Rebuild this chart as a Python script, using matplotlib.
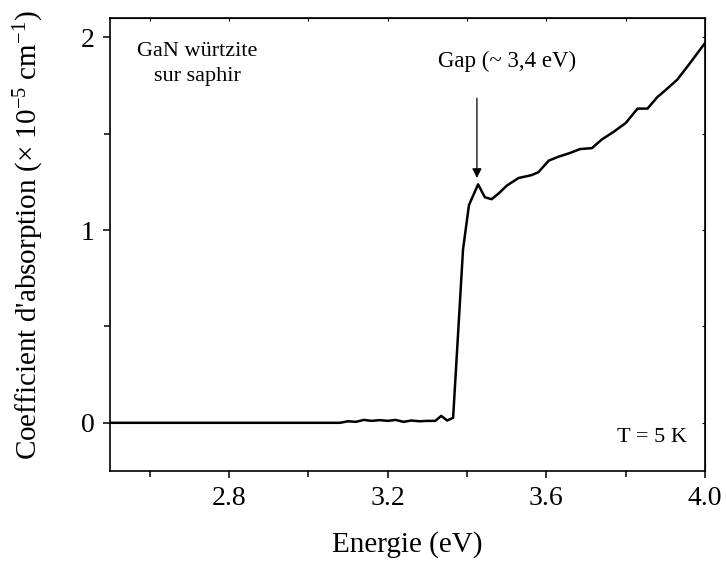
import matplotlib
matplotlib.use("Agg")
import matplotlib.pyplot as plt
from matplotlib.ticker import MultipleLocator

plt.rcParams['font.family'] = ['Liberation Serif', 'DejaVu Serif']
plt.rcParams['mathtext.fontset'] = 'custom'
plt.rcParams['mathtext.rm'] = 'Liberation Serif'
plt.rcParams['mathtext.it'] = 'Liberation Serif:italic'

# absorption spectrum
energie = [2.5, 3.08, 3.10, 3.12, 3.14, 3.16, 3.18, 3.20, 3.22, 3.24, 3.26, 3.28,
           3.30, 3.32, 3.335, 3.35, 3.365, 3.39, 3.405, 3.428, 3.445, 3.462, 3.48,
           3.50, 3.53, 3.563, 3.58, 3.606, 3.63, 3.66, 3.685, 3.715, 3.74, 3.77,
           3.80, 3.83, 3.855, 3.88, 3.90, 3.93, 3.96, 4.0]
absorption = [0, 0, 0.008, 0.005, 0.015, 0.01, 0.014, 0.01, 0.015, 0.005, 0.012, 0.008,
              0.01, 0.01, 0.036, 0.012, 0.026, 0.90, 1.13, 1.237, 1.17, 1.16, 1.19,
              1.23, 1.27, 1.285, 1.30, 1.36, 1.38, 1.40, 1.42, 1.425, 1.47, 1.51,
              1.555, 1.63, 1.63, 1.69, 1.725, 1.78, 1.86, 1.97]

fig = plt.figure(figsize=(7.27, 5.66), dpi=100)
ax = fig.add_axes([110/727, 1-471/566, 595/727, 453/566])

ax.plot(energie, absorption, color='black', lw=1.8)

ax.set_xlim(2.5, 4.0)
ax.set_ylim(-0.25, 2.1)
ax.xaxis.set_minor_locator(MultipleLocator(0.2))
ax.set_xticks([2.8, 3.2, 3.6, 4.0])
ax.yaxis.set_major_locator(MultipleLocator(1))
ax.yaxis.set_minor_locator(MultipleLocator(0.5))

for s in ax.spines.values():
    s.set_linewidth(1.2)

ax.tick_params(axis='both', which='major', direction='out', length=5, width=1.1,
               labelsize=20, pad=6)
ax.tick_params(axis='both', which='minor', direction='out', length=4, width=1.1)
ax.tick_params(axis='both', which='both', top=False, right=False)

sec_x = ax.secondary_xaxis('top')
sec_x.xaxis.set_major_locator(MultipleLocator(0.2))
sec_x.tick_params(direction='in', length=2, width=0.8, labeltop=False)
sec_y = ax.secondary_yaxis('right')
sec_y.yaxis.set_major_locator(MultipleLocator(0.5))
sec_y.tick_params(direction='in', length=2, width=0.8, labelright=False)

ax.set_xlabel('Energie (eV)', fontsize=21, labelpad=14)
ax.set_ylabel(r"Coefficient d'absorption ($\times$ 10$^{-5}$ cm$^{-1}$)", fontsize=21)
ax.yaxis.set_label_coords(-0.108, 0.52)

ax.text(2.72, 1.86, 'GaN würtzite\nsur saphir', ha='center', va='center', fontsize=16,
        linespacing=1.45)
ax.text(3.50, 1.876, 'Gap (~ 3,4 eV)', ha='center', va='center', fontsize=16.5)
ax.annotate('', xy=(3.425, 1.27), xytext=(3.425, 1.684),
            arrowprops=dict(arrowstyle='-|>', color='black', lw=0.9,
                            mutation_scale=14, shrinkA=0, shrinkB=0))
ax.text(3.867, -0.078, 'T = 5 K', ha='center', va='center', fontsize=16)

fig.savefig('out.png', dpi=100)
